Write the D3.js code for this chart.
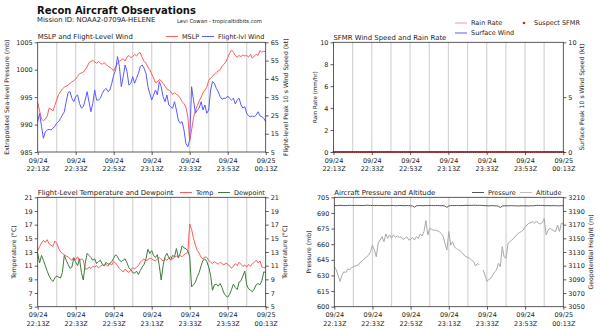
<!DOCTYPE html>
<html lang="en">
<head>
<meta charset="UTF-8">
<script src="https://cdn.jsdelivr.net/npm/d3@7"></script>
<title>Recon Aircraft Observations</title>
<style>
    body { margin: 0; background: white; }
    svg { font-family: "DejaVu Sans", sans-serif; }
</style>
</head>
<body>
<script>
/*---------------- data: one sample per minute after 09/24 22:13Z ----------------*/
const startTime = Date.UTC(2024, 8, 24, 22, 13);
const minute = m => new Date(startTime + m * 60000);

const tickMinutes = [0, 20, 40, 60, 80, 100, 120];
const gridMinutes = [10, 20, 30, 40, 50, 60, 70, 80, 90, 100, 110];

// extrapolated sea-level pressure (mb)
const mslp = [994,992.5,991,990.7,991,991.5,993,992.8,992.5,993.5,
    994.5,995.5,996,996.5,996.8,997,997.2,997.5,997.8,998,
    998.3,998.8,999.3,999.4,999.6,1000,1000.5,1001.3,1001.5,1001.7,
    1001.4,1001.2,1001.5,1001.2,1001,1001.3,1001,1000.6,1000.4,1000.2,
    999.8,1000.5,1001.2,1001.5,1001.8,1002,1001.6,1002.3,1002.6,1002.2,
    1002.4,1002.8,1002.5,1003,1003.1,1002.2,1001.5,1001.2,1000.5,1000,
    999.2,998.5,997.6,997.8,998.2,998,997.5,997,996.5,996.3,
    996,995.5,995.8,995.5,995.3,994.8,994.2,993.8,993.2,991.5,
    987,989,991.3,992.5,993.5,994.3,995,995.8,996.3,996.8,
    998,998.5,998.8,999.2,999.5,999.8,1000,1000.6,1001,1001.4,
    1002.2,1003,1003.6,1003.2,1002.6,1002.3,1002.6,1002.4,1002.7,1002.5,
    1002.6,1002.3,1002.8,1002.1,1002.5,1002.8,1002.6,1003.5,1003.2,1003.4,
    1003.2];

// flight-level peak 10 s wind (kt)
const flightWind = [21.6,26,19,12.5,16,17,17.4,17,18,19,
    20.7,21.6,23.4,25.2,27,32.5,37.5,38,34.4,32.5,
    35.3,36.2,31.6,29,29.8,33.4,38,32.5,27,31.6,
    38.9,33.4,33.4,34.4,37,38.9,39.8,38,38.9,42.6,
    47,49.9,57.2,51.7,40.7,46.2,52.6,49,41.6,42.6,
    46.2,42.6,45.3,48,51.7,52.6,50.8,48,40.7,37,
    33.4,36.2,38.9,36.2,43.5,40.7,35.3,32.5,36.2,30.7,
    29.8,28.9,32.5,28,22.5,20.7,21.6,17,9.7,7.9,
    11.6,40.7,33.4,26.2,28,29,32.5,28,30.7,26.2,
    28,38.9,43.5,42.6,39.8,38,35.3,33.8,34.4,34.4,
    35.6,34.4,33.4,34.4,31.3,33.4,34.4,30.7,29,29.8,
    26.2,24.7,24.3,24.7,24.3,25.2,27,24.7,24.3,23.4,
    21.6];

// SFMR: rain rate (mm/hr) at the segment ends, suspect SFMR flags (kt)
const rainMinutes = [0, 120];
const rainRate = [0, 0];
const suspectMinutes = [0,1,2,3,4,5,6,7,8,9,10,11,12,13,14,15,16,17,18,19,
    20,21,22,23,24,25,26,27,28,29,30,31,32,33,34,35,36,37,38,39,
    40,41,42,43,44,45,46,47,48,49,50,51,52,53,54,55,56,57,58,59,
    60,61,62,63,64,65,66,67,68,69,70,71,72,73,74,75,76,77,78,79,
    80,81,82,83,84,85,86,87,88,89,90,91,92,93,94,95,96,97,98,99,
    100,101,102,103,104,105,106,107,108,109,110,111,112,113,114,115,116,117,118,119,120];
const suspectKt = 0;

// flight-level temperature and dewpoint (C)
const temperature = [13.2,13.8,14.3,14.7,14.4,14.8,14.2,14,13.8,14.6,
    14.3,13.6,13,12.8,12.6,12.4,12.3,12,11.8,12.2,
    11.9,12.3,11.7,12,11.8,10.5,10.5,10.8,10.6,10.9,
    10.8,11,10.7,10.9,11.1,11,11.2,10.9,11.3,11.1,
    11.6,11.4,11,10.6,10.3,10.1,10.5,10.2,10,10.4,
    10.7,10.5,10.8,11,11.5,11.8,12,11.7,11.9,12.1,
    12,11.8,11.7,12,12.2,11.9,11.7,12,11.8,12.1,
    12.3,12,12.2,12.4,12.2,12.5,12.3,12.6,12.8,12.9,
    17.1,16.3,15,14,13.2,12.8,12.2,12,12.3,12.2,
    11.8,11.5,11.3,11.6,11.4,11.2,11.5,11.3,11.1,11.4,
    11.2,11,10.6,10.9,11.3,11,11.5,11.2,10.9,11.1,
    10.8,11.2,10.9,11.3,11.5,11.8,11.4,11.7,10.8,10.7,
    10.7];

const dewpoint = [12.8,11.4,12.5,11.8,11,10.2,9.5,9,8.7,9.2,
    9.5,9.3,9.2,10,12.5,11.8,11.2,10.6,10.8,12.1,
    11.5,11,12,10,8.9,11.3,12.8,12.5,12.2,11.8,
    12,11.3,11.6,11.8,11.2,11,11.5,11.2,11.3,11.6,
    12.1,12.6,12.3,11.8,11.6,11.8,12,11.4,10.7,10.4,
    10,9.9,10.2,9.7,10.3,10.8,11.2,12,13.4,12.8,
    13.2,12.5,12.2,12.6,11,8.9,11,12.3,12.8,12.2,
    11.8,12.5,12.3,13.5,12.2,12.8,13.9,13.6,13.5,13.2,
    12.3,7.9,8.2,8.6,9.4,10,11,11.8,12,11.6,
    10.8,9.6,7.4,8.2,8.3,8,8.4,7.8,7,6.6,
    6.4,6.8,7.5,8.3,7.8,7.5,8.6,8.8,9.5,10.2,
    8.2,7.6,7.4,7.2,7.6,8.2,8.4,8.2,8.8,10.1,
    10];

// aircraft static pressure (mb) and geopotential height (m)
const aircraftPressure = [697.2,697.0,697.1,697.3,697.2,697.1,697.0,697.2,697.3,697.2,
    697.1,697.2,697.3,697.2,697.0,697.1,697.2,697.4,697.3,697.1,
    697.2,697.0,697.2,697.1,697.0,697.2,696.9,697.0,697.1,697.0,
    697.2,697.1,696.9,697.0,697.2,697.1,697.0,696.9,697.1,697.0,
    696.8,696.6,695.5,696.8,697.0,697.1,696.9,697.0,697.1,697.0,
    697.2,697.1,697.0,697.1,697.2,697.0,696.9,697.0,696.6,695.3,
    696.8,697.0,697.1,697.0,697.2,697.1,697.0,697.1,697.2,697.3,
    697.2,697.3,697.2,697.4,697.3,697.2,697.3,697.2,697.1,697.0,
    696.9,696.8,697.0,697.0,696.8,696.9,696.4,695.2,696.6,696.8,
    696.9,696.8,696.9,697.0,696.8,696.9,696.7,696.8,696.9,696.8,
    696.9,696.8,696.7,696.9,696.8,697.0,697.2,697.3,697.1,697.2,
    697.0,696.9,697.1,696.8,697.0,696.9,697.0,696.8,696.9,697.0,
    696.9];

const altitude = [3108.5,3104,3096,3087,3096,3101,3100,3105,3104,3107,
    3108.5,3109.5,3110.5,3112.4,3116,3118,3121,3123,3125.6,3130.5,
    3140,3133,3123,3143,3147.5,3152.4,3145,3156.4,3150,3155,
    3150,3155,3151.5,3153.4,3151.5,3152.4,3148.5,3150,3152.4,3147.5,
    3148.5,3151.5,3147.5,3152.4,3150,3156.4,3153.4,3160,3176,3155,
    3164.6,3163,3162,3162,3161,3160,3157,3153.4,3142.7,3133,
    3160,3140,3145,3137,3135.4,3133,3132,3129,3125.6,3123,
    3122,3120.7,3118,3116,3109.5,3113,3111.5,null,3103.7,3096,
    3087,3090,3091.5,3096,3101,3103.7,3113.4,3108.5,3138,3123,
    3120.7,3142.7,3145,3147.5,3150,3153.4,3156.4,3158.3,3160,3162,
    3167,3169.5,3172,3173,3174.4,3172,3175.4,3172,3171,3173,
    3179,3155,3162,3164.6,3163,3161,3160,3169.5,3160,3172,
    3171];

// axis ticks
const mslpTicks = [985, 990, 995, 1000, 1005];
const windTicks = [5, 15, 25, 35, 45, 55, 65];
const rainTicks = [0, 2, 4, 6, 8, 10];
const sfmrTicks = [0, 5, 10];
const tempTicks = [5, 7, 9, 11, 13, 15, 17, 19, 21];
const presTicks = [600, 615, 630, 645, 660, 675, 690, 705];
const altTicks = [3050, 3070, 3090, 3110, 3130, 3150, 3170, 3190, 3210];

/*---------------- svg ----------------*/
const svg = d3.select("body").append("svg")
    .attr("width", 600)
    .attr("height", 331);

svg.append("text").attr("x", 37).attr("y", 13.5)
    .attr("font-size", 10).attr("font-weight", "bold").attr("fill", "#111")
    .text("Recon Aircraft Observations");
svg.append("text").attr("x", 37).attr("y", 22)
    .attr("font-size", 6.9).attr("fill", "#222")
    .text("Mission ID: NOAA2-0709A-HELENE");
svg.append("text").attr("x", 177).attr("y", 22.5)
    .attr("font-size", 5.3).attr("fill", "#222")
    .text("Levi Cowan - tropicaltidbits.com");

const fmtDay = d3.utcFormat("%m/%d");
const fmtHour = d3.utcFormat("%H:%MZ");
const fmtNum = d3.format("d");

function drawPanel(p) {
    const g = svg.append("g");
    const x = d3.scaleUtc().domain([minute(0), minute(120)]).range([p.left, p.right]);
    const yL = d3.scaleLinear().domain(p.leftDomain).range([p.bottom, p.top]);
    const yR = d3.scaleLinear().domain(p.rightDomain).range([p.bottom, p.top]);

    // 10 minute grid
    g.selectAll("line.grid").data(gridMinutes).join("line")
        .attr("class", "grid")
        .attr("x1", d => x(minute(d))).attr("x2", d => x(minute(d)))
        .attr("y1", p.top).attr("y2", p.bottom)
        .attr("stroke", "#d4d4d4").attr("stroke-width", 1.2);

    p.series.forEach(s => {
        const y = s.side === "right" ? yR : yL;
        const times = s.minutes || null;
        const line = d3.line()
            .defined(d => d != null)
            .x((d, i) => x(minute(times ? times[i] : i)))
            .y(d => y(d));
        g.append("path").datum(s.values)
            .attr("d", line)
            .attr("fill", "none")
            .attr("stroke", s.color)
            .attr("stroke-width", s.width || 1);
    });

    if (p.dots) {
        g.selectAll("circle.dot").data(p.dots.minutes).join("circle")
            .attr("class", "dot")
            .attr("cx", d => x(minute(d)))
            .attr("cy", yR(p.dots.value))
            .attr("r", 1.1)
            .attr("fill", p.dots.color);
    }

    // frame
    g.append("rect")
        .attr("x", p.left).attr("y", p.top)
        .attr("width", p.right - p.left).attr("height", p.bottom - p.top)
        .attr("fill", "none").attr("stroke", "#333").attr("stroke-width", 0.8);

    // axes
    const styleAxis = sel => {
        sel.select(".domain").remove();
        sel.selectAll(".tick line").attr("stroke", "#333").attr("stroke-width", 0.8);
        sel.selectAll(".tick text").attr("font-size", 6.5).attr("fill", "#222")
            .attr("font-family", "DejaVu Sans");
    };
    g.append("g").attr("transform", `translate(${p.left},0)`)
        .call(d3.axisLeft(yL).tickValues(p.leftTicks).tickFormat(fmtNum).tickSize(3).tickPadding(2))
        .call(styleAxis);
    g.append("g").attr("transform", `translate(${p.right},0)`)
        .call(d3.axisRight(yR).tickValues(p.rightTicks).tickFormat(fmtNum).tickSize(3).tickPadding(2))
        .call(styleAxis);
    const xa = g.append("g").attr("transform", `translate(0,${p.bottom})`)
        .call(d3.axisBottom(x).tickValues(tickMinutes.map(minute)).tickSize(3).tickFormat(""))
        .call(styleAxis);
    xa.selectAll(".tick text").remove();
    xa.selectAll(".tick").append("text")
        .attr("text-anchor", "middle").attr("font-size", 6.5).attr("fill", "#222")
        .attr("font-family", "DejaVu Sans")
        .call(t => t.append("tspan").attr("x", 0).attr("y", 10.5).text(d => fmtDay(d)))
        .call(t => t.append("tspan").attr("x", 0).attr("y", 19).text(d => fmtHour(d)));

    // axis titles
    const midY = (p.top + p.bottom) / 2;
    g.append("text")
        .attr("transform", `translate(${p.leftLabelX},${midY}) rotate(-90)`)
        .attr("text-anchor", "middle").attr("font-size", p.leftLabelSize || 6.2)
        .attr("fill", "#222").text(p.leftLabel);
    g.append("text")
        .attr("transform", `translate(${p.rightLabelX},${midY}) rotate(-90)`)
        .attr("text-anchor", "middle").attr("font-size", p.rightLabelSize || 6.2)
        .attr("fill", "#222").text(p.rightLabel);

    // panel title
    g.append("text").attr("x", p.left).attr("y", p.titleY)
        .attr("font-size", 6.9).attr("fill", "#222").text(p.title);

    // legend
    p.legend.forEach(l => {
        if (l.dot) {
            g.append("circle").attr("cx", l.x + 6).attr("cy", l.y).attr("r", 1.3).attr("fill", l.color);
        } else {
            g.append("line").attr("x1", l.x).attr("x2", l.x + 12)
                .attr("y1", l.y).attr("y2", l.y)
                .attr("stroke", l.color).attr("stroke-width", 1);
        }
        g.append("text").attr("x", l.x + 16).attr("y", l.y + 2.3)
            .attr("font-size", 6.5).attr("fill", "#222").text(l.label);
    });
}

const red = "#ff5b5b";
const blue = "#5a5aff";
const green = "#3f7a3f";

drawPanel({
    left: 37.7, right: 265.7, top: 42.3, bottom: 152,
    leftDomain: [985, 1005], rightDomain: [5, 65],
    leftTicks: mslpTicks, rightTicks: windTicks,
    leftLabel: "Extrapolated Sea-level Pressure (mb)", leftLabelX: 9,
    rightLabel: "Flight-level Peak 10 s Wind Speed (kt)", rightLabelX: 288,
    title: "MSLP and Flight-Level Wind", titleY: 39,
    series: [
        { values: mslp, color: red },
        { values: flightWind, color: blue, side: "right" }
    ],
    legend: [
        { label: "MSLP", color: red, x: 166, y: 36.5 },
        { label: "Flight-lvl Wind", color: blue, x: 202, y: 36.5 }
    ]
});

drawPanel({
    left: 333.5, right: 563.3, top: 42.3, bottom: 152,
    leftDomain: [0, 10], rightDomain: [0, 10],
    leftTicks: rainTicks, rightTicks: sfmrTicks,
    leftLabel: "Rain Rate (mm/hr)", leftLabelX: 317, leftLabelSize: 5.6,
    rightLabel: "Surface Peak 10 s Wind Speed (kt)", rightLabelX: 584,
    title: "SFMR Wind Speed and Rain Rate", titleY: 40,
    series: [
        { values: rainRate, minutes: rainMinutes, color: "#ff8ccf", width: 1.2 }
    ],
    dots: { minutes: suspectMinutes, value: suspectKt, color: "#e01818" },
    legend: [
        { label: "Rain Rate", color: "#ff8ccf", x: 455, y: 23 },
        { label: "Suspect SFMR", color: "#e01818", x: 518, y: 23, dot: true },
        { label: "Surface Wind", color: blue, x: 455, y: 33 }
    ]
});

drawPanel({
    left: 37.7, right: 265.7, top: 197.3, bottom: 306.7,
    leftDomain: [5, 21], rightDomain: [5, 21],
    leftTicks: tempTicks, rightTicks: tempTicks,
    leftLabel: "Temperature (°C)", leftLabelX: 16,
    rightLabel: "Temperature (°C)", rightLabelX: 287,
    title: "Flight-Level Temperature and Dewpoint", titleY: 195,
    series: [
        { values: temperature, color: red },
        { values: dewpoint, color: green }
    ],
    legend: [
        { label: "Temp", color: red, x: 180, y: 192.5 },
        { label: "Dewpoint", color: green, x: 218, y: 192.5 }
    ]
});

drawPanel({
    left: 334.3, right: 563.3, top: 197.3, bottom: 306.7,
    leftDomain: [600, 705], rightDomain: [3050, 3210],
    leftTicks: presTicks, rightTicks: altTicks,
    leftLabel: "Pressure (mb)", leftLabelX: 311,
    rightLabel: "Geopotential Height (m)", rightLabelX: 593,
    title: "Aircraft Pressure and Altitude", titleY: 195,
    series: [
        { values: aircraftPressure, color: "#555" },
        { values: altitude, color: "#a9a9a9", side: "right" }
    ],
    legend: [
        { label: "Pressure", color: "#555", x: 472, y: 192.5 },
        { label: "Altitude", color: "#bdbdbd", x: 520, y: 192.5 }
    ]
});
</script>
</body>
</html>
